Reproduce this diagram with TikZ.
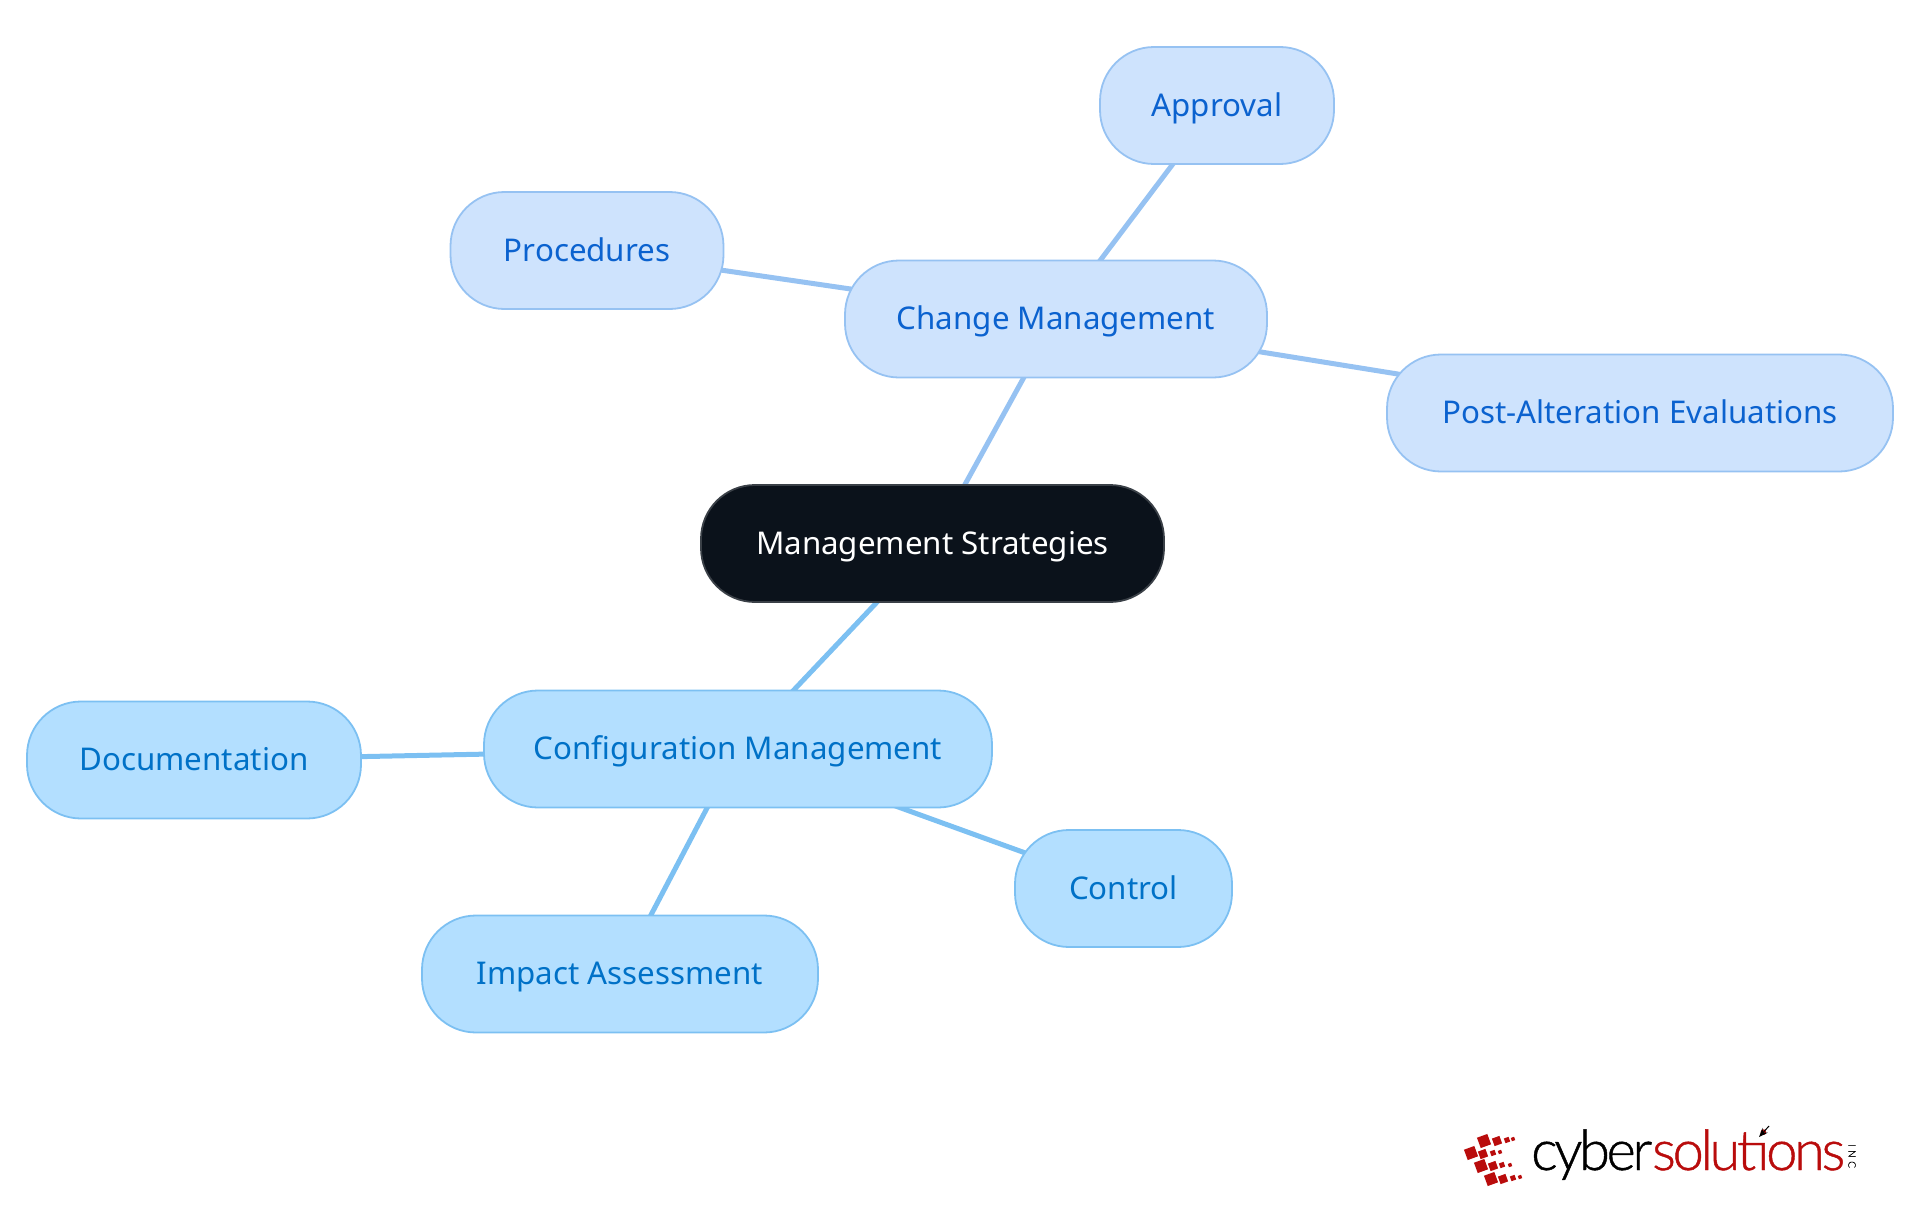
\documentclass[tikz,border=0pt]{standalone}
\usepackage{fontspec}
\setmainfont{Noto Sans}
\newfontfamily\logofont{Lato Light}
\usetikzlibrary{backgrounds,arrows.meta}
\definecolor{rootfill}{HTML}{0B121B}
\definecolor{rootline}{HTML}{3A4047}
\definecolor{changefill}{HTML}{CEE3FD}
\definecolor{changeline}{HTML}{96C2F2}
\definecolor{changetext}{HTML}{0B62CF}
\definecolor{configfill}{HTML}{B3DFFF}
\definecolor{configline}{HTML}{7CC0F2}
\definecolor{configtext}{HTML}{0071C7}
\definecolor{logored}{HTML}{B90C0C}
\tikzset{
    pill/.style={draw, line width=1.8pt, rounded corners=54pt, inner sep=0pt, minimum height=117pt, text height=26pt, text depth=5pt, font=\fontsize{31.3}{36}\selectfont},
    rootpill/.style={pill, fill=rootfill, draw=rootline, text=white},
    changepill/.style={pill, fill=changefill, draw=changeline, text=changetext},
    configpill/.style={pill, fill=configfill, draw=configline, text=configtext},
    changelink/.style={draw=changeline, line width=5pt},
    configlink/.style={draw=configline, line width=5pt},
    logosq/.style={fill=logored, inner sep=0pt, rotate=20}
}
\begin{document}
\begin{tikzpicture}[x=1pt,y=-1pt]
    \useasboundingbox (0,0) rectangle (1920,1215);

    % Centre node
    \node[rootpill, minimum width=463pt] (root) at (932.5,543.5) {Management Strategies};

    % Change management branch
    \node[changepill, minimum width=422pt] (change) at (1056,319) {Change Management};
    \node[changepill, minimum width=234pt] (approval) at (1217,105.5) {Approval};
    \node[changepill, minimum width=273pt] (procedures) at (587,250.5) {Procedures};
    \node[changepill, minimum width=506pt] (post) at (1640,413) {Post-Alteration Evaluations};

    % Configuration management branch
    \node[configpill, minimum width=508pt] (config) at (738,749) {Configuration Management};
    \node[configpill, minimum width=334pt] (documentation) at (194,760) {Documentation};
    \node[configpill, minimum width=217pt] (control) at (1123.5,888.5) {Control};
    \node[configpill, minimum width=396pt] (impact) at (620,974) {Impact Assessment};

    % Links go behind the nodes
    \begin{scope}[on background layer]
        \draw[changelink] (root.center) -- (change.center);
        \draw[configlink] (root.center) -- (config.center);
        \foreach \leaf in {approval,procedures,post}
            \draw[changelink] (change.center) -- (\leaf.center);
        \foreach \leaf in {documentation,control,impact}
            \draw[configlink] (config.center) -- (\leaf.center);
    \end{scope}

    % Logo squares
    \foreach \cx/\cy/\sq [count=\i] in {
        1484/1141/11, 1497/1141/8, 1507/1140/5, 1513/1139/3.5,
        1471/1153/11, 1483/1154/8, 1493/1153/5, 1500/1152/3.5,
        1481/1166/11, 1493/1166/8, 1502/1165/5, 1510/1165/3.5,
        1491/1179/11, 1503/1179/8, 1513/1178/5, 1520/1177/3.5}
        \node[logosq, minimum size=\sq pt] (sq\i) at (\cx,\cy) {};

    % Logo text
    \node[inner sep=0pt, anchor=base west] (logotext) at (1531,1170) {\logofont\fontsize{56}{60}\selectfont\addfontfeature{LetterSpace=-6,FakeBold=0.8}cyber\textcolor{logored}{solutions}};
    \node[rotate=-90, inner sep=0pt, font=\logofont\fontsize{10}{10}\selectfont\addfontfeature{LetterSpace=35,FakeBold=0.8}] (logoinc) at (1852,1156) {INC};
    \coordinate (arrowtail) at (1769,1126);
    \coordinate (arrowtip) at (1759,1137);
    \draw[-{Stealth[length=9pt,width=7pt]}, line width=1pt] (arrowtail) -- (arrowtip);
\end{tikzpicture}
\end{document}
